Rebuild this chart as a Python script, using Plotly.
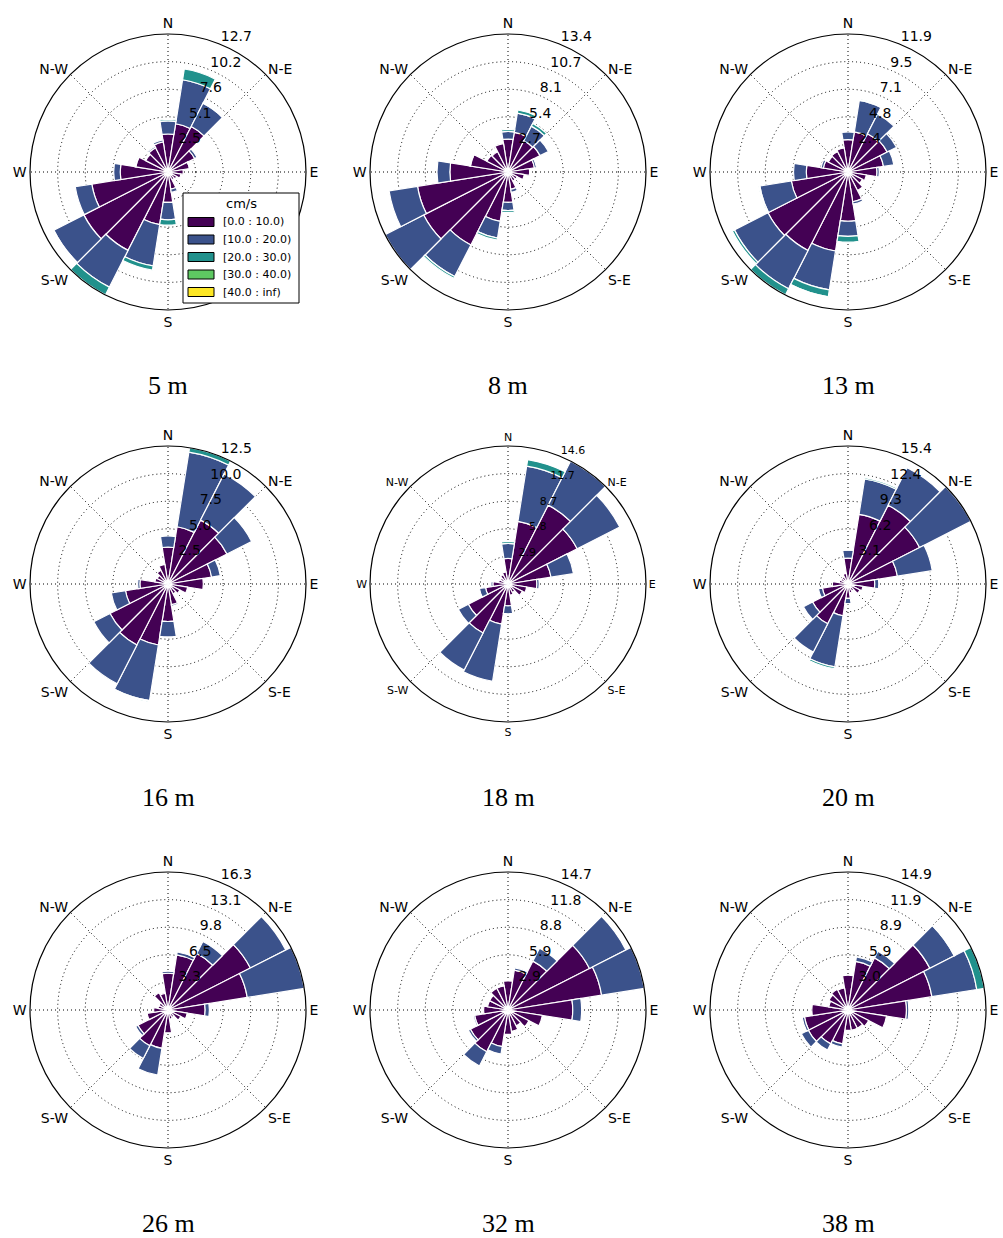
import plotly.graph_objects as go

# Direction sectors (degrees, clockwise from north), 20 sectors of 18 degrees
directions = [0, 18, 36, 54, 72, 90, 108, 126, 144, 162,
              180, 198, 216, 234, 252, 270, 288, 306, 324, 342]
sector_width = 18

speed_bins = ["[0.0 : 10.0)", "[10.0 : 20.0)", "[20.0 : 30.0)",
              "[30.0 : 40.0)", "[40.0 : inf)"]
bin_colors = ["#440154", "#3b528b", "#21918c", "#5ec962", "#fde725"]

compass_vals = [0, 45, 90, 135, 180, 225, 270, 315]
compass_text = ["N", "N-E", "E", "S-E", "S", "S-W", "W", "N-W"]

depths = ["5 m", "8 m", "13 m", "16 m", "18 m", "20 m", "26 m", "32 m", "38 m"]

# Frequency (%) per direction for each speed bin, one list per bin
z0 = [0] * 20
f05 = [[3.5, 4.5, 4.7, 2.75, 2.0, 1.4, 1.2, 0.9, 0.8, 1.6, 2.8, 4.9, 8.1, 8.7, 7.1, 4.4, 3.0, 2.3, 2.5, 2.8],
       [1.2, 4.1, 2.4, 0.25, 0.1, 0, 0, 0, 0, 0.3, 1.6, 3.85, 3.8, 3.1, 1.55, 0.6, 0.1, 0, 0.15, 0.2],
       [0.15, 1.0, 0.1, 0, 0, 0, 0, 0, 0, 0, 0.5, 0.4, 0.8, 0.1, 0, 0, 0, 0, 0, 0],
       z0, z0]
f08 = [[3.2, 3.9, 3.4, 3.5, 2.6, 2.1, 1.6, 1.0, 1.0, 1.7, 2.95, 4.85, 7.95, 9.2, 8.9, 5.65, 3.7, 2.3, 2.2, 2.8],
       [0.75, 1.9, 1.6, 0.9, 0.2, 0, 0, 0, 0, 0.3, 0.8, 1.65, 3.45, 4.2, 2.8, 1.25, 0.1, 0, 0, 0],
       [0.2, 0.3, 0.3, 0, 0, 0, 0, 0, 0, 0, 0.2, 0.2, 0.2, 0, 0, 0, 0, 0, 0, 0],
       z0, z0]
f13 = [[2.8, 3.5, 3.7, 3.8, 3.1, 2.5, 1.6, 1.4, 1.8, 2.6, 4.25, 6.9, 7.6, 7.75, 4.95, 3.6, 2.15, 1.9, 2.0, 2.1],
       [0.65, 2.75, 1.9, 0.9, 0.9, 0.2, 0, 0, 0, 0.2, 1.3, 3.4, 3.7, 3.25, 2.75, 1.1, 0.2, 0, 0.1, 0],
       [0, 0.1, 0, 0, 0, 0, 0, 0, 0, 0, 0.5, 0.6, 0.6, 0.2, 0.1, 0, 0, 0, 0, 0],
       [0, 0, 0, 0, 0, 0, 0, 0, 0, 0, 0, 0.1, 0, 0, 0, 0, 0, 0, 0, 0],
       z0]
f16 = [[3.35, 5.25, 6.5, 6.0, 4.0, 3.2, 1.8, 1.2, 1.0, 1.9, 3.4, 5.6, 6.2, 5.9, 3.9, 2.55, 1.2, 1.1, 1.4, 1.8],
       [1.0, 6.85, 4.7, 2.5, 0.8, 0, 0, 0, 0, 0.15, 1.4, 5.1, 3.95, 1.65, 1.3, 0.2, 0, 0, 0, 0],
       [0, 0.4, 0, 0, 0, 0, 0, 0, 0, 0, 0, 0.1, 0, 0, 0, 0, 0, 0, 0, 0],
       z0, z0]
f18 = [[2.7, 6.7, 9.35, 8.2, 4.6, 3.05, 2.0, 1.7, 1.0, 1.2, 2.3, 4.3, 5.8, 4.7, 2.4, 1.6, 1.0, 0.9, 1.1, 1.3],
       [1.6, 5.9, 5.22, 5.05, 2.4, 0.25, 0, 0, 0, 0, 0.85, 6.1, 4.4, 1.2, 0.65, 0.2, 0, 0, 0, 0],
       [0.2, 0.7, 0, 0, 0, 0, 0, 0, 0, 0, 0, 0, 0, 0, 0, 0, 0, 0, 0, 0],
       z0, z0]
f20 = [[2.9, 7.9, 9.9, 9.0, 5.6, 3.0, 1.7, 1.5, 0.9, 1.0, 1.6, 3.6, 5.0, 4.45, 2.9, 1.75, 1.0, 0.9, 0.9, 1.2],
       [0.9, 4.0, 4.7, 6.44, 3.95, 0.45, 0, 0, 0, 0, 0.6, 5.8, 3.55, 1.15, 0.45, 0, 0, 0, 0, 0],
       [0.1, 0.15, 0, 0, 0, 0, 0, 0, 0, 0, 0, 0.2, 0, 0, 0, 0, 0, 0, 0, 0],
       z0, z0]
f26 = [[4.35, 6.6, 7.5, 10.95, 9.5, 4.4, 2.3, 1.7, 1.0, 1.1, 2.7, 4.6, 4.75, 4.0, 2.5, 1.7, 1.2, 1.2, 2.3, 2.0],
       [0.25, 0.35, 1.6, 4.7, 6.83, 0.5, 0, 0, 0, 0, 0, 3.2, 1.7, 0.3, 0, 0, 0, 0, 0, 0],
       z0, z0, z0]
f32 = [[3.1, 4.3, 5.85, 9.75, 10.1, 6.9, 3.7, 2.5, 1.9, 2.3, 2.6, 3.95, 5.0, 4.5, 3.6, 2.6, 2.2, 2.2, 2.6, 2.6],
       [0, 0.25, 1.55, 4.35, 4.6, 0.95, 0, 0, 0, 0, 0, 0.8, 1.7, 0.25, 0.15, 0, 0, 0, 0, 0],
       z0, z0, z0]
f38 = [[3.75, 5.3, 6.3, 9.9, 9.15, 6.3, 4.2, 2.5, 2.2, 2.2, 2.2, 3.7, 4.1, 4.8, 4.75, 3.9, 2.1, 2.3, 2.5, 2.4],
       [0, 0.5, 0.8, 2.95, 4.9, 0.25, 0, 0, 0, 0, 0, 0.35, 0.75, 0.85, 0.25, 0, 0, 0, 0, 0],
       [0, 0, 0, 0.1, 0.81, 0, 0, 0, 0, 0, 0, 0, 0, 0, 0, 0, 0, 0, 0, 0],
       z0, z0]
frequencies = [f05, f08, f13, f16, f18, f20, f26, f32, f38]

# Radial ring labels for each rose (five rings, the last one is the outer edge)
ring_labels = [
    ["2.5", "5.1", "7.6", "10.2", "12.7"],
    ["2.7", "5.4", "8.1", "10.7", "13.4"],
    ["2.4", "4.8", "7.1", "9.5", "11.9"],
    ["2.5", "5.0", "7.5", "10.0", "12.5"],
    ["2.9", "5.8", "8.7", "11.7", "14.6"],
    ["3.1", "6.2", "9.3", "12.4", "15.4"],
    ["3.3", "6.5", "9.8", "13.1", "16.3"],
    ["2.9", "5.9", "8.8", "11.8", "14.7"],
    ["3.0", "5.9", "8.9", "11.9", "14.9"],
]
ring_label_direction = 22.5

# Page geometry
W, H = 1003, 1238
col_x = [168, 508, 848]
row_y = [172, 584, 1010]
R = 138
title_drop = 213

GRID_DASH = "1px,3px"

fig = go.Figure()
layout_polars = {}
annotations = []
shapes = []

for i, (depth, freq, labels) in enumerate(zip(depths, frequencies, ring_labels)):
    key = "polar" if i == 0 else f"polar{i + 1}"
    cx = col_x[i % 3]
    cy = row_y[i // 3]

    totals = [sum(col) for col in zip(*freq)]
    rmax = max(totals)
    rings = [rmax * k / 5 for k in range(1, 5)] + [rmax]

    for b, (name, color) in enumerate(zip(speed_bins, bin_colors)):
        fig.add_trace(go.Barpolar(
            r=freq[b], theta=directions, width=sector_width,
            name=name, showlegend=False,
            marker=dict(color=color, line=dict(color="white", width=1.2)),
            subplot=key, hoverinfo="skip",
        ))

    small = (depth == "18 m")
    fsize = 11 if small else 14

    # ring values written next to each ring, along the NNE direction
    fig.add_trace(go.Scatterpolar(
        r=rings, theta=[ring_label_direction] * 5, mode="text",
        text=labels, textposition="top right",
        textfont=dict(family="DejaVu Sans", size=fsize, color="black"),
        cliponaxis=False, showlegend=False, hoverinfo="skip", subplot=key,
    ))

    layout_polars[key] = dict(
        domain=dict(x=[(cx - R) / W, (cx + R) / W],
                    y=[1 - (cy + R) / H, 1 - (cy - R) / H]),
        bgcolor="white",
        barmode="stack",
        radialaxis=dict(
            range=[0, rmax * 1.0005],
            tickvals=rings,
            showticklabels=False,
            showline=False,
            ticks="",
            gridcolor="black", griddash=GRID_DASH, gridwidth=1,
            layer="above traces",
        ),
        angularaxis=dict(
            rotation=90, direction="clockwise",
            tickmode="array", tickvals=compass_vals, ticktext=compass_text,
            showline=True, linecolor="black", linewidth=1.2,
            ticks="",
            gridcolor="black", griddash=GRID_DASH, gridwidth=1,
            tickfont=dict(family="DejaVu Sans", size=fsize, color="black"),
            layer="above traces",
        ),
    )
    annotations.append(dict(
        x=cx / W, y=1 - (cy + title_drop) / H, xref="paper", yref="paper",
        text=depth, showarrow=False, xanchor="center", yanchor="middle",
        font=dict(family="Liberation Serif", size=26, color="black"),
    ))

# Legend box for the speed classes, drawn inside the first rose
lg_left, lg_top, lg_right, lg_bottom = 183, 193, 299, 303
shapes.append(dict(type="rect", xref="paper", yref="paper",
                   x0=lg_left / W, x1=lg_right / W,
                   y0=1 - lg_bottom / H, y1=1 - lg_top / H,
                   line=dict(color="black", width=1), fillcolor="white",
                   layer="above"))
annotations.append(dict(
    x=(lg_left + lg_right) / 2 / W, y=1 - (lg_top + 11) / H,
    xref="paper", yref="paper", text="cm/s", showarrow=False,
    xanchor="center", yanchor="middle",
    font=dict(family="DejaVu Sans", size=13, color="black"),
))
for b, (name, color) in enumerate(zip(speed_bins, bin_colors)):
    yc = lg_top + 29 + 17.5 * b
    shapes.append(dict(type="rect", xref="paper", yref="paper",
                       x0=(lg_left + 5) / W, x1=(lg_left + 31) / W,
                       y0=1 - (yc + 4.5) / H, y1=1 - (yc - 4.5) / H,
                       line=dict(color="black", width=1), fillcolor=color,
                       layer="above"))
    annotations.append(dict(
        x=(lg_left + 38) / W, y=1 - yc / H, xref="paper", yref="paper",
        text=name, showarrow=False, xanchor="left", yanchor="middle",
        font=dict(family="DejaVu Sans", size=11, color="black"),
    ))

fig.update_layout(
    width=W, height=H,
    margin=dict(l=0, r=0, t=0, b=0),
    paper_bgcolor="white",
    plot_bgcolor="white",
    showlegend=False,
    annotations=annotations,
    shapes=shapes,
    **layout_polars,
)

fig.write_html("out.html")
